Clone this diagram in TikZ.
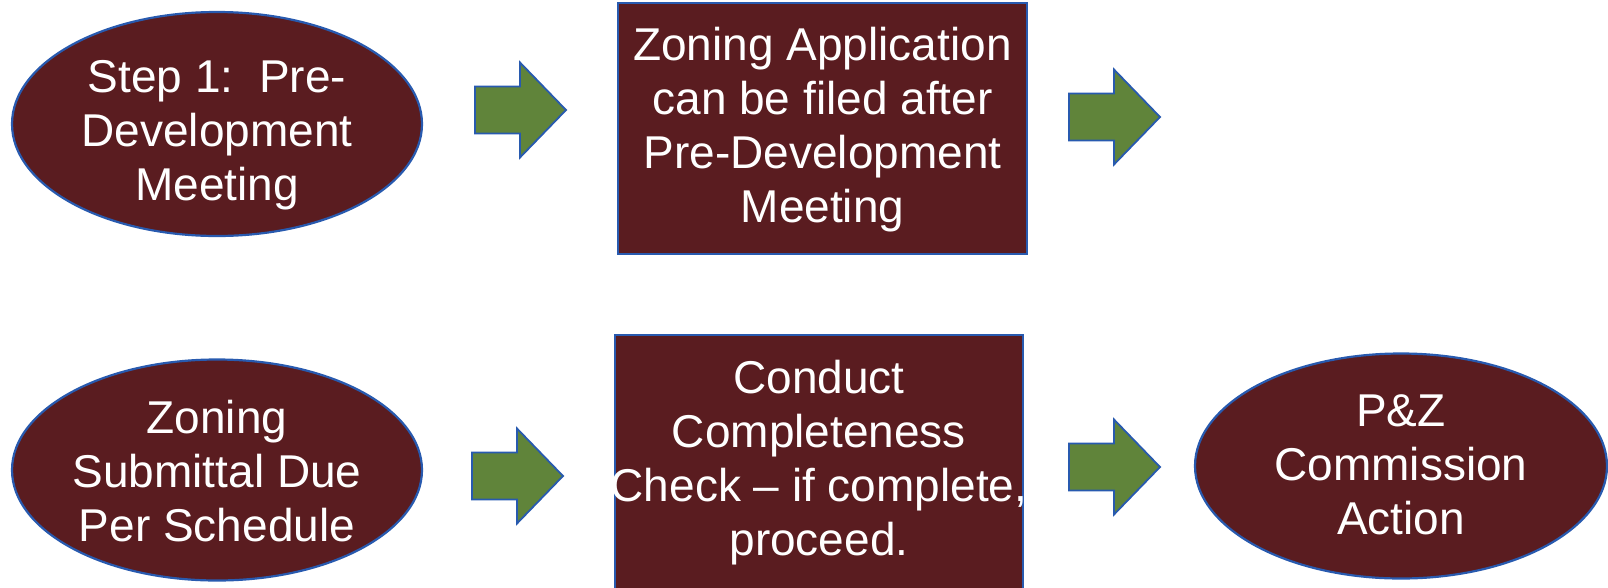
\documentclass[tikz,border=0pt]{standalone}
\usepackage{fontspec}
\setmainfont{Liberation Sans}
\usetikzlibrary{shapes.geometric}
\definecolor{maroon}{RGB}{90,28,32}
\definecolor{edgeblue}{RGB}{40,90,175}
\definecolor{arrgreen}{RGB}{96,132,58}
\tikzset{
  txt/.style={text=white, font=\fontsize{46}{54}\selectfont, align=center, inner sep=0pt},
  oval/.style={ellipse, draw=edgeblue, line width=2.2pt, fill=maroon, minimum width=410pt, minimum height=224pt, inner sep=0pt},
  boxshape/.style={rectangle, draw=edgeblue, line width=2.2pt, fill=maroon, inner sep=0pt},
  arrowstyle/.style={draw=edgeblue, line width=1.8pt, fill=arrgreen, line join=miter},
  blockarr/.pic={\draw[arrowstyle] (-45,-23.5) -- (0,-23.5) -- (0,-47.5) -- (46,0) -- (0,47.5) -- (0,23.5) -- (-45,23.5) -- cycle;}
}
\begin{document}
\begin{tikzpicture}[x=1pt,y=-1pt]
\useasboundingbox (0,0) rectangle (1608,587);
% row 1
\node[oval] (e1) at (217,124) {};
\node[txt] (t1) at (217,135) {Step 1:\ \ Pre-\\Development\\Meeting};
\pic at (520,110) {blockarr};
\node[boxshape, minimum width=409pt, minimum height=251pt] (b1) at (822.5,128.5) {};
\node[txt] (t2) at (822.5,130) {Zoning Application\\can be filed after\\Pre-Development\\Meeting};
\pic at (1114,117) {blockarr};
% row 2
\node[oval, minimum height=221pt] (e2) at (217,470) {};
\node[txt] (t3) at (217,471) {Zoning\\Submittal Due\\Per Schedule};
\pic at (517,476) {blockarr};
\node[boxshape, minimum width=408pt, minimum height=256pt] (b2) at (819,463) {};
\node[txt] (t4) at (819,462.5) {Conduct\\Completeness\\Check -- if complete,\\proceed.};
\pic at (1114,467) {blockarr};
\node[oval, minimum width=412pt, minimum height=225pt] (e3) at (1401,466) {};
\node[txt] (t5) at (1401,465) {P\&Z\\Commission\\Action};
\end{tikzpicture}
\end{document}
